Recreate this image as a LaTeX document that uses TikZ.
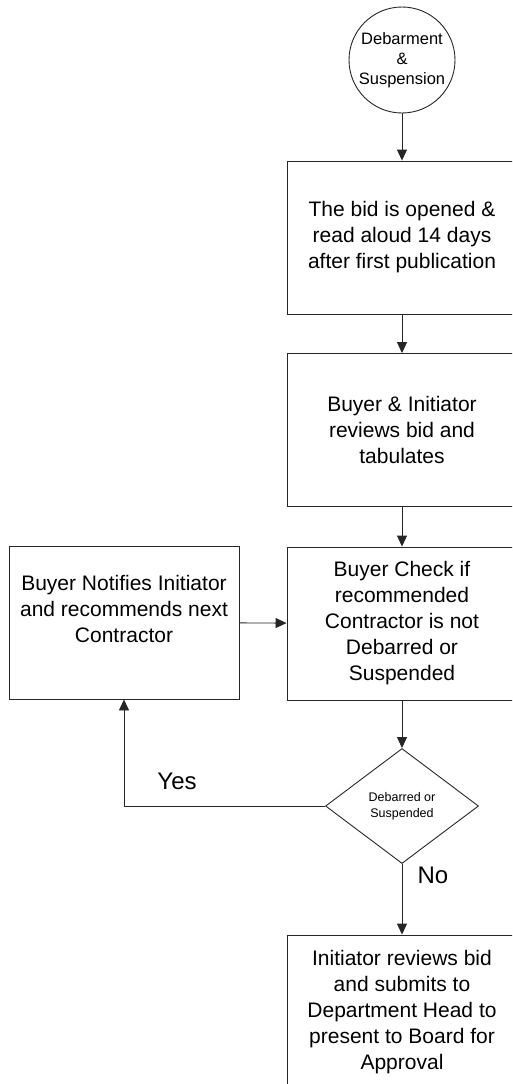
\documentclass[tikz,border=0pt]{standalone}
\usepackage{fontspec}
\setmainfont{Liberation Sans}
\usetikzlibrary{shapes.geometric,arrows.meta}
\tikzset{
  line/.style={draw=black!85, line width=0.9pt},
  arr/.style={line, -{Triangle[length=11pt,width=10pt]}},
  stepbox/.style={line, rectangle, minimum width=230pt, minimum height=153pt, inner sep=0pt, align=center,
    font=\fontsize{21}{26}\selectfont},
  startcirc/.style={line, circle, minimum size=106pt, inner sep=0pt, align=center,
    font=\fontsize{16.5}{20}\selectfont},
  decide/.style={line, diamond, minimum width=153pt, minimum height=115pt, inner sep=0pt, align=center,
    font=\fontsize{12.5}{16}\selectfont},
  branch/.style={font=\fontsize{24}{28}\selectfont, inner sep=0pt},
  plain/.style={inner sep=0pt, align=center, font=\fontsize{21}{26}\selectfont}
}
\begin{document}
\begin{tikzpicture}[x=1pt,y=-1pt]
\useasboundingbox (0,0) rectangle (512,1084);
\clip (0,0) rectangle (512,1084);
\fill[white] (0,0) rectangle (512,1084);
\node[startcirc] (start) at (402,60) {Debarment\\\&\\Suspension};
\node[stepbox] (open) at (402,237.5) {The bid is opened \&\\read aloud 14 days\\after first publication};
\node[stepbox] (review) at (402,430) {Buyer \& Initiator\\reviews bid and\\tabulates};
\node[stepbox] (check) at (402,623.5) {Buyer Check if\\recommended\\Contractor is not\\Debarred or\\Suspended};
\node[stepbox, minimum width=230pt] (notify) at (124,622.5) {};
\node[plain] (notifytext) at (124,609) {Buyer Notifies Initiator\\and recommends next\\Contractor};
\node[decide] (dec) at (402,806) {Debarred or\\Suspended};
\node[stepbox, minimum height=154pt] (final) at (402,1012) {Initiator reviews bid\\and submits to\\Department Head to\\present to Board for\\Approval};
\draw[arr] (start) -- (open);
\draw[arr] (open) -- (review);
\draw[arr] (review) -- (check);
\draw[arr] (check) -- (dec);
\draw[arr] (notify) -- (check);
\draw[arr] (dec.west) -| (notify.south);
\draw[arr] (dec.south) -- (final.north);
\node[branch] (yes) at (177,781) {Yes};
\node[branch] (no) at (433,875) {No};
\end{tikzpicture}
\end{document}
